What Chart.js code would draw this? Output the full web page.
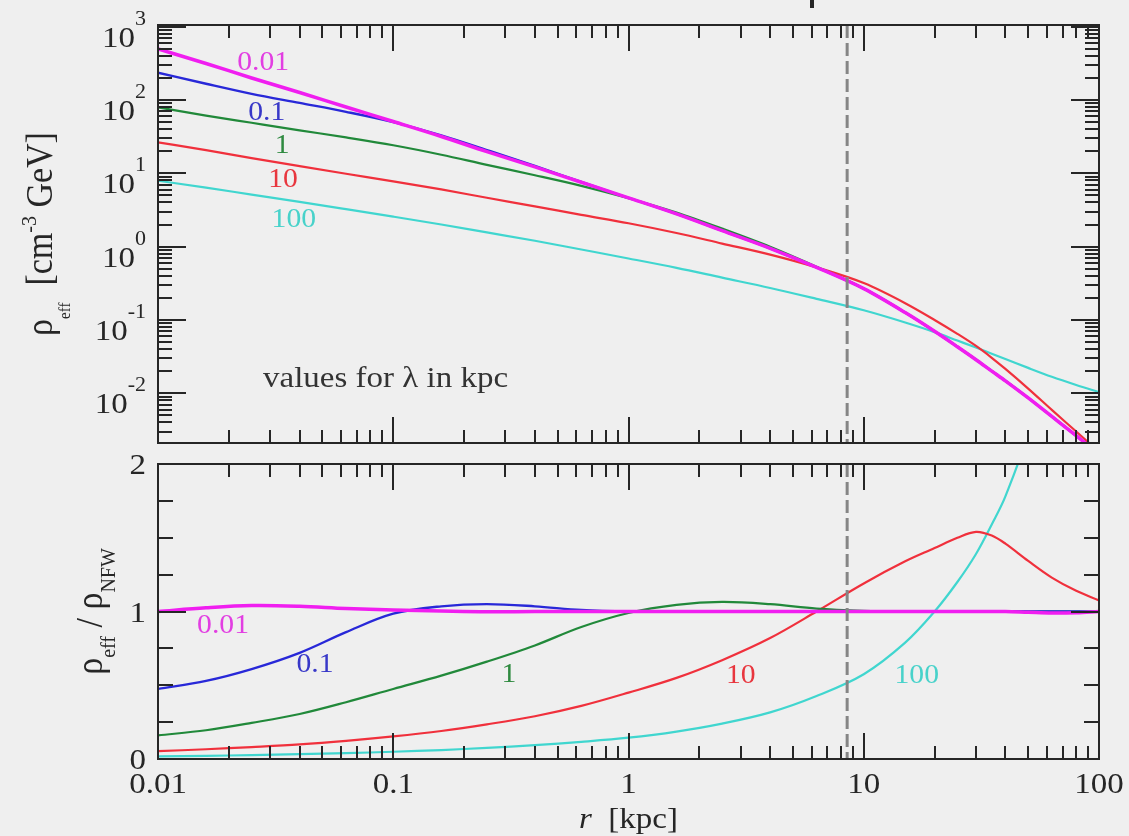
<!DOCTYPE html>
<html lang="en">

<head>
    <meta charset="UTF-8">
    <title>Effective dark matter density vs radius</title>
    <script src="https://cdn.jsdelivr.net/npm/chart.js"></script>
    <style>
        body { margin: 0; background: #efefef; }
        #page { position: relative; width: 1129px; height: 836px; overflow: hidden; }
        canvas { position: absolute; left: 0; }
    </style>
</head>

<body>
    <div id="page">
        <canvas id="densityChart" width="1129" height="455" style="top:0"></canvas>
        <canvas id="ratioChart" width="1129" height="381" style="top:455px"></canvas>
    </div>

    <script>
        ////////////////////////////////////////////////////
        // radius grid [kpc]
        const radius = [0.01, 0.016, 0.025, 0.04, 0.063, 0.1, 0.16, 0.25, 0.4, 0.63, 1, 1.6, 2.5, 4, 6.3, 10, 15, 20, 25, 30, 35, 40, 50, 63, 80, 100];
        const lambdaLabels = ['0.01', '0.1', '1', '10', '100'];

        // rho_eff [GeV cm^-3] for each lambda
        const rhoL001 = [495.5, 314, 199, 126.2, 80.0, 50.7, 31.7, 19.7, 12.2, 7.53, 4.62, 2.79, 1.65, 0.948, 0.521, 0.267, 0.126, 0.070, 0.0431, 0.0287, 0.0201, 0.0148, 0.00865, 0.00483, 0.00264, 0.00148];
        const rhoL01 = [235, 166, 121, 90.9, 68.8, 49.9, 32.8, 20.7, 12.6, 7.6, 4.62, 2.79, 1.65, 0.948, 0.521, 0.267, 0.126, 0.070, 0.0431, 0.0287, 0.0201, 0.0148, 0.00865, 0.00483, 0.00264, 0.00148];
        const rhoL1 = [79.3, 61.2, 48.8, 38.5, 30.8, 24.1, 17.9, 13.0, 9.39, 6.74, 4.57, 2.92, 1.76, 0.995, 0.531, 0.268, 0.126, 0.070, 0.0431, 0.0287, 0.0201, 0.0148, 0.00865, 0.00483, 0.00264, 0.00148];
        const rhoL10 = [26.3, 20.7, 16.1, 12.5, 9.84, 7.76, 6.02, 4.63, 3.54, 2.71, 2.08, 1.53, 1.10, 0.777, 0.521, 0.318, 0.169, 0.100, 0.0647, 0.0442, 0.0305, 0.0215, 0.0116, 0.00594, 0.00301, 0.00159];
        const rhoL100 = [7.9, 6.37, 5.11, 4.07, 3.24, 2.56, 2.0, 1.56, 1.2, 0.912, 0.689, 0.513, 0.377, 0.273, 0.194, 0.1355, 0.0923, 0.0682, 0.0523, 0.0421, 0.0347, 0.0294, 0.0222, 0.0168, 0.013, 0.0104];

        // rho_eff / rho_NFW
        const ratioL001 = [1.0, 1.025, 1.04, 1.035, 1.02, 1.01, 1.003, 0.998, 1.0, 1.0, 1.0, 1.0, 1.0, 1.0, 1.0, 1.0, 1.0, 1.0, 1.0, 1.0, 1.0, 1.0, 0.995, 0.99, 0.992, 1.0];
        const ratioL01 = [0.475, 0.53, 0.61, 0.72, 0.86, 0.985, 1.035, 1.05, 1.035, 1.01, 1.0, 1.0, 1.0, 1.0, 1.0, 1.0, 1.0, 1.0, 1.0, 1.0, 1.0, 1.0, 1.0, 1.0, 1.0, 1.0];
        const ratioL1 = [0.16, 0.195, 0.245, 0.305, 0.385, 0.475, 0.565, 0.66, 0.77, 0.895, 0.99, 1.045, 1.065, 1.05, 1.02, 1.005, 1.0, 1.0, 1.0, 1.0, 1.0, 1.0, 1.0, 1.0, 1.0, 1.0];
        const ratioL10 = [0.053, 0.066, 0.081, 0.099, 0.123, 0.153, 0.19, 0.235, 0.29, 0.36, 0.45, 0.55, 0.67, 0.82, 1.0, 1.19, 1.34, 1.43, 1.50, 1.54, 1.515, 1.46, 1.343, 1.23, 1.14, 1.075];
        const ratioL100 = [0.0174, 0.0214, 0.0263, 0.0324, 0.0398, 0.049, 0.0608, 0.0755, 0.0938, 0.1164, 0.1445, 0.186, 0.24, 0.316, 0.427, 0.575, 0.789, 1.0, 1.20, 1.39, 1.59, 1.78, 2.22, 3.0, 4.4, 6.7];

        // solar radius marker [kpc]
        const sunRadius = 8.5;

        // tick labels
        const xTickLabels = ['0.01', '0.1', '1', '10', '100'];
        const rhoTickExponents = ['3', '2', '1', '0', '-1', '-2'];
        const ratioTickLabels = ['0', '1', '2'];
        ////////////////////////////////////////////////////

        const lineColors = ['#f01ef0', '#2828d8', '#21893a', '#f0303c', '#40d6cf'];
        const textColors = ['#e23ee2', '#3838c8', '#2f8a40', '#e8363e', '#48d2ca'];
        const lineWidths = [3.5, 2.4, 2.2, 2.2, 2.2];

        // where the lambda names sit, in data coordinates
        const rhoLabelSpots = [[0.028, 257], [0.029, 54], [0.0337, 19], [0.034, 6.5], [0.0378, 1.86]];
        const ratioLabelSpots = [[0.0189, 0.854], [0.0465, 0.59], [0.31, 0.52], [3.0, 0.515], [16.8, 0.515]];

        const FONT = "'Liberation Serif', 'DejaVu Serif', serif";
        const STRETCH = 1.1;
        const INK = '#262626';

        function fontOf(run) {
            return (run.italic ? 'italic ' : '') + run.size + 'px ' + FONT;
        }

        // draw a list of text runs (for sub/superscripts), optionally rotated
        function drawRuns(ctx, runs, x, y, align, color, rotate) {
            ctx.save();
            ctx.fillStyle = color;
            ctx.textAlign = 'left';
            ctx.textBaseline = 'alphabetic';
            let total = 0;
            runs.forEach(r => { ctx.font = fontOf(r); r.w = ctx.measureText(r.text).width; total += r.w; });
            ctx.translate(x, y);
            ctx.scale(STRETCH, 1);
            if (rotate) ctx.rotate(-Math.PI / 2);
            let cx = align === 'center' ? -total / 2 : (align === 'right' ? -total : 0);
            runs.forEach(r => {
                ctx.font = fontOf(r);
                ctx.fillText(r.text, cx, r.dy || 0);
                cx += r.w;
            });
            ctx.restore();
        }

        function text(ctx, str, x, y, size, align, color) {
            drawRuns(ctx, [{ text: str, size: size }], x, y, align, color, false);
        }

        function logTicks(min, max) {
            const out = [];
            for (let d = Math.floor(Math.log10(min)); d <= Math.ceil(Math.log10(max)); d++) {
                for (let k = 1; k <= 9; k++) {
                    const v = k * Math.pow(10, d);
                    if (v >= min * 0.999 && v <= max * 1.001) out.push({ v: v, major: k === 1 });
                }
            }
            return out;
        }

        function seg(ctx, x1, y1, x2, y2) {
            ctx.beginPath();
            ctx.moveTo(x1, y1);
            ctx.lineTo(x2, y2);
            ctx.stroke();
        }

        function drawFrame(chart, yTicks, yMajor, yMinor) {
            const { ctx, chartArea: a, scales } = chart;
            ctx.save();
            ctx.strokeStyle = INK;
            ctx.lineWidth = 2;
            logTicks(0.01, 100).forEach(t => {
                const px = Math.round(scales.x.getPixelForValue(t.v));
                const len = t.major ? 26 : 13;
                seg(ctx, px, a.top, px, a.top + len);
                seg(ctx, px, a.bottom, px, a.bottom - len);
            });
            yTicks.forEach(t => {
                const py = Math.round(scales.y.getPixelForValue(t.v));
                const len = t.major ? yMajor : yMinor;
                seg(ctx, a.left, py, a.left + len, py);
                seg(ctx, a.right, py, a.right - len, py);
            });
            ctx.strokeRect(a.left, a.top, a.right - a.left, a.bottom - a.top);
            ctx.restore();
        }

        function drawSunLine(chart) {
            const { ctx, chartArea: a, scales } = chart;
            const px = scales.x.getPixelForValue(sunRadius);
            ctx.save();
            ctx.strokeStyle = '#858585';
            ctx.lineWidth = 3;
            ctx.setLineDash([13, 5]);
            seg(ctx, px, a.top, px, a.bottom);
            ctx.restore();
        }

        function drawCurveNames(chart, spots) {
            const { ctx, scales } = chart;
            spots.forEach((s, i) => {
                text(ctx, lambdaLabels[i], scales.x.getPixelForValue(s[0]), scales.y.getPixelForValue(s[1]), 27, 'center', textColors[i]);
            });
        }

        const densityDecor = {
            id: 'densityDecor',
            afterDatasetsDraw(chart) {
                const { ctx, chartArea: a, scales } = chart;
                drawSunLine(chart);
                drawFrame(chart, logTicks(scales.y.min, scales.y.max), 28, 14);
                // y tick labels 10^n
                rhoTickExponents.forEach(e => {
                    const py = scales.y.getPixelForValue(Math.pow(10, Number(e)));
                    drawRuns(ctx, [{ text: '10', size: 30 }, { text: e, size: 20, dy: -22 }], 146, py + 20, 'right', INK, false);
                });
                drawCurveNames(chart, rhoLabelSpots);
                text(ctx, 'values for \u03bb in kpc', 263, 387, 30, 'left', '#333333');
                // y axis title
                drawRuns(ctx, [
                    { text: '\u03c1', size: 34 },
                    { text: 'eff', size: 15, dy: 16 },
                    { text: '  [cm', size: 34 },
                    { text: '-3', size: 20, dy: -15 },
                    { text: ' GeV]', size: 34 }
                ], 52, (a.top + a.bottom) / 2, 'center', INK, true);
                // bit of a heading cut off above the frame
                ctx.fillStyle = INK;
                ctx.fillRect(810, 0, 4, 8);
            }
        };

        const ratioDecor = {
            id: 'ratioDecor',
            afterDatasetsDraw(chart) {
                const { ctx, chartArea: a, scales } = chart;
                drawSunLine(chart);
                const yTicks = [];
                for (let k = 0; k <= 8; k++) yTicks.push({ v: k * 0.25, major: k % 4 === 0 });
                drawFrame(chart, yTicks, 28, 15);
                ratioTickLabels.forEach(l => {
                    text(ctx, l, 146, scales.y.getPixelForValue(Number(l)) + 10, 30, 'right', INK);
                });
                xTickLabels.forEach(l => {
                    text(ctx, l, scales.x.getPixelForValue(Number(l)), a.bottom + 34, 30, 'center', INK);
                });
                drawRuns(ctx, [
                    { text: 'r', size: 30, italic: true },
                    { text: '  [kpc]', size: 30 }
                ], (a.left + a.right) / 2, a.bottom + 69, 'center', INK, false);
                drawCurveNames(chart, ratioLabelSpots);
                drawRuns(ctx, [
                    { text: '\u03c1', size: 34 },
                    { text: 'eff', size: 20, dy: 12 },
                    { text: ' / ', size: 34 },
                    { text: '\u03c1', size: 34 },
                    { text: 'NFW', size: 20, dy: 12 }
                ], 102, (a.top + a.bottom) / 2, 'center', INK, true);
            }
        };

        // smooth: 'monotone' keeps log curves tidy, plain tension rounds the bumps
        function makeDatasets(seriesList, smooth) {
            return seriesList.map((vals, i) => ({
                label: lambdaLabels[i],
                data: radius.map((r, j) => ({ x: r, y: vals[j] })),
                borderColor: lineColors[i],
                borderWidth: lineWidths[i],
                pointRadius: 0,
                fill: false,
                cubicInterpolationMode: smooth === 'monotone' ? 'monotone' : 'default',
                tension: 0.35,
                clip: 0
            }));
        }

        function baseOptions(yScale, padding) {
            return {
                responsive: false,
                animation: false,
                layout: { padding: padding },
                plugins: { legend: { display: false }, tooltip: { enabled: false } },
                scales: {
                    x: { type: 'logarithmic', min: 0.01, max: 100, display: false },
                    y: yScale
                }
            };
        }

        new Chart(document.getElementById('densityChart'), {
            type: 'line',
            data: { datasets: makeDatasets([rhoL001, rhoL01, rhoL1, rhoL10, rhoL100], 'monotone') },
            options: baseOptions({ type: 'logarithmic', min: 0.0021, max: 1050, display: false },
                { left: 158, top: 25, right: 30, bottom: 12 }),
            plugins: [densityDecor]
        });

        new Chart(document.getElementById('ratioChart'), {
            type: 'line',
            data: { datasets: makeDatasets([ratioL001, ratioL01, ratioL1, ratioL10, ratioL100], 'tension') },
            options: baseOptions({ type: 'linear', min: 0, max: 2, display: false },
                { left: 158, top: 9, right: 30, bottom: 77 }),
            plugins: [ratioDecor]
        });
    </script>
</body>

</html>
